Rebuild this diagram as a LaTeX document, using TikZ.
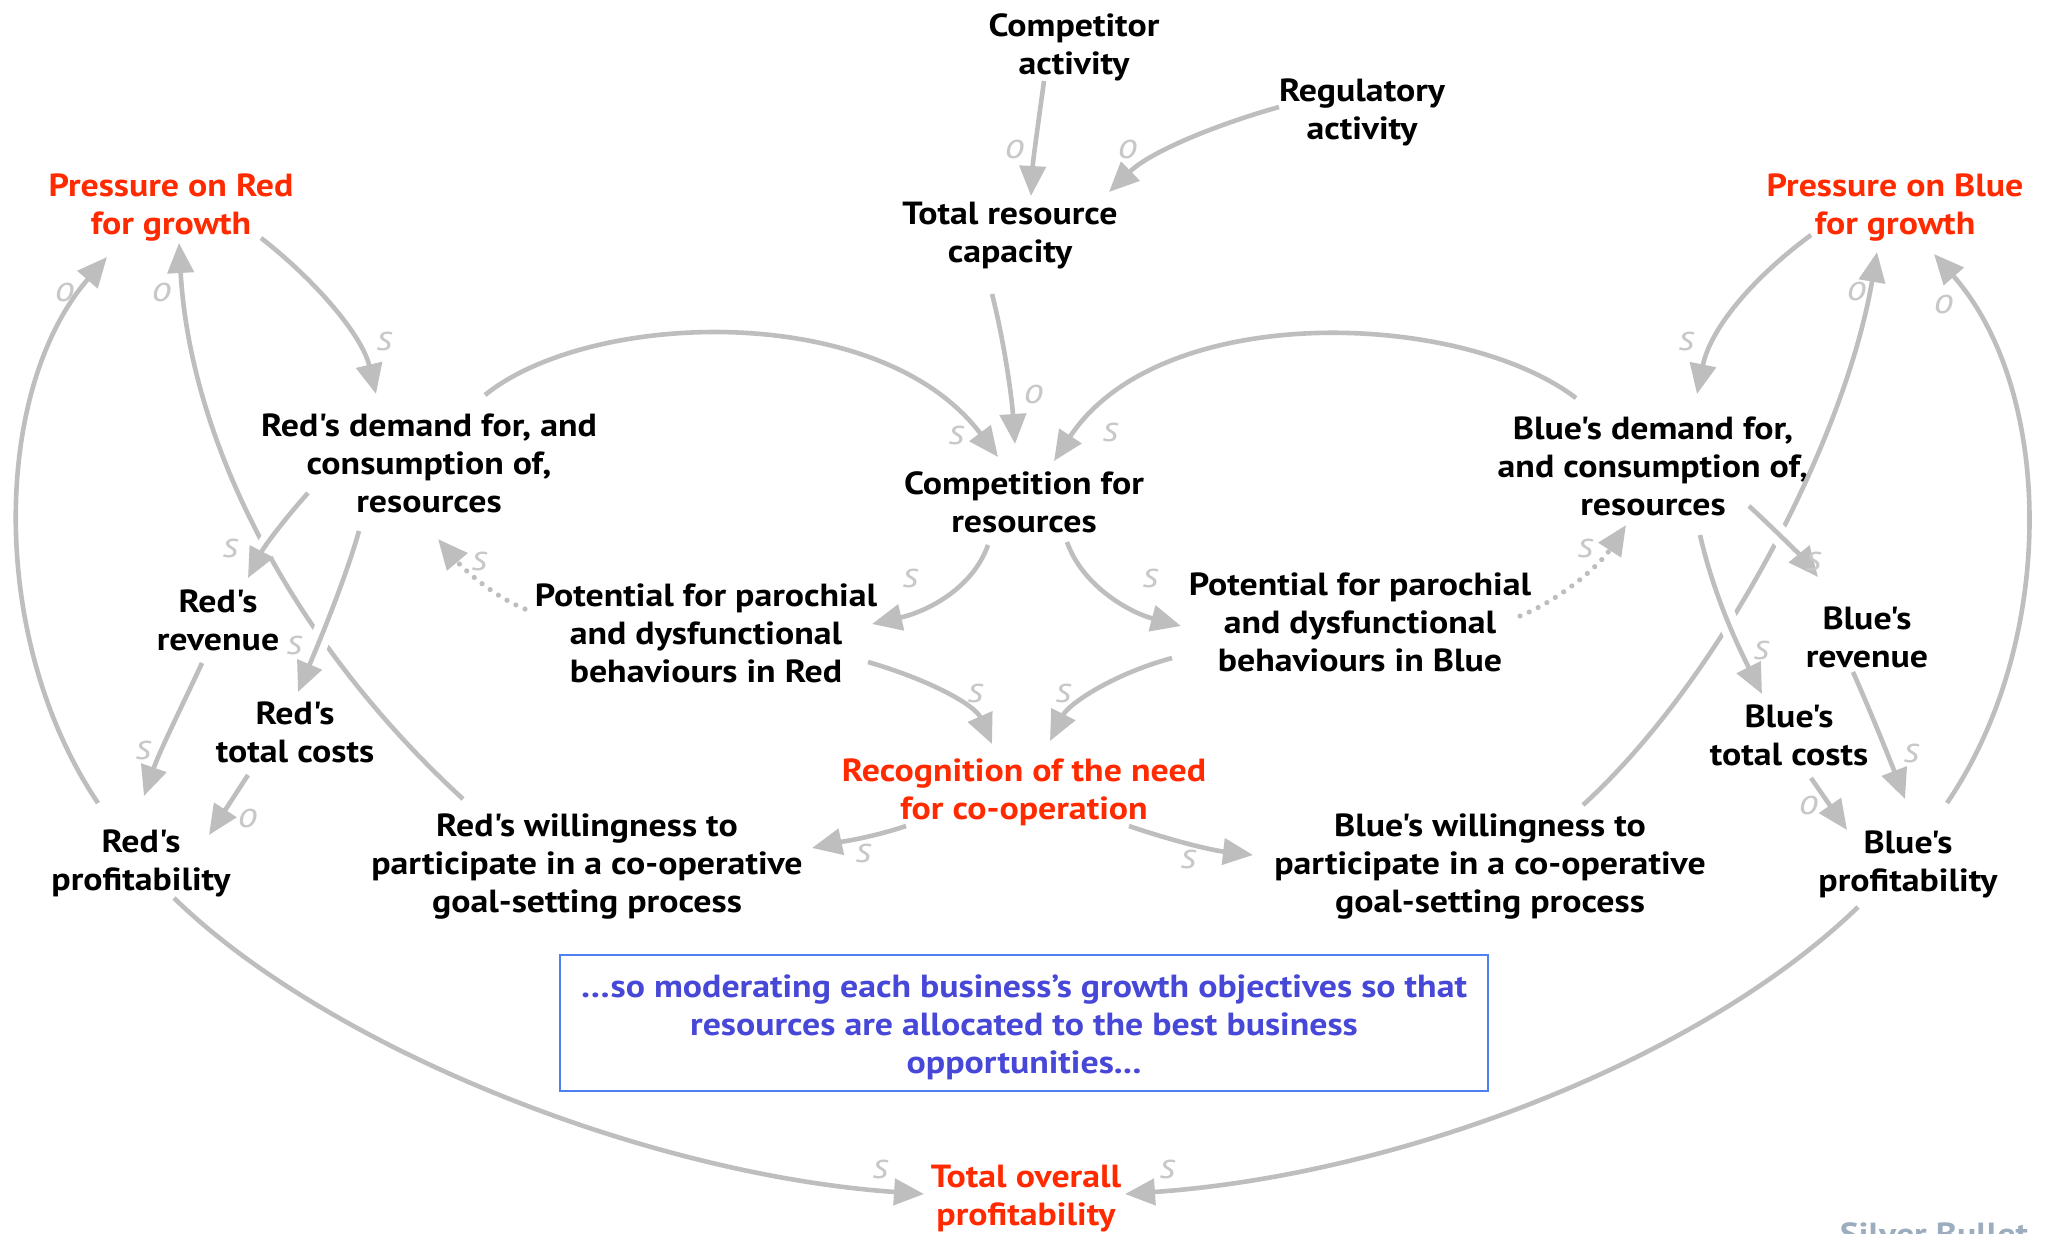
\documentclass[tikz,border=0pt]{standalone}
\usepackage{fontspec}
\newfontfamily\dfont{PT Sans}[FakeStretch=1.12]
\usetikzlibrary{arrows.meta,calc}

\definecolor{linegray}{HTML}{BEBEBE}
\definecolor{labgray}{HTML}{C8C8C8}
\definecolor{accent}{HTML}{FF2A00}
\definecolor{notetext}{HTML}{4747D8}
\definecolor{noteframe}{HTML}{4F80F0}
\definecolor{markgray}{HTML}{9CADC0}

\tikzset{
  var/.style={font=\dfont\bfseries\fontsize{16}{19}\selectfont, align=center, inner sep=0pt},
  hot/.style={var, text=accent},
  pol/.style={font=\dfont\itshape\fontsize{18}{18}\selectfont, text=labgray, inner sep=0pt},
  link/.style={draw=linegray, line width=2.3pt, -{Triangle[length=15pt,width=13pt]}},
  halo/.style={preaction={draw=white, line width=10pt, -}},
  dotlink/.style={link, dash pattern=on 0pt off 5pt, line cap=round, line width=2.6pt}
}

\begin{document}
\begin{tikzpicture}[x=0.5pt, y=-0.5pt]
\useasboundingbox (0,0) rectangle (2046,1233);
\fill[white] (0,0) rectangle (2046,1233);

% variables
\node[var] (comp) at (1074,47) {Competitor\\activity};
\node[var] (reg) at (1362,112) {Regulatory\\activity};
\node[var] (trc) at (1010,236) {Total resource\\capacity};
\node[hot] (pr) at (171,208) {Pressure on Red\\for growth};
\node[hot] (pb) at (1895,208) {Pressure on Blue\\for growth};
\node[var] (rd) at (429,463) {Red's demand for, and\\consumption of,\\resources};
\node[var] (cfr) at (1024,502) {Competition for\\resources};
\node[var] (bd) at (1653,466) {Blue's demand for,\\and consumption of,\\resources};
\node[var] (rrev) at (218,620) {Red's\\revenue};
\node[var] (rcost) at (295,732) {Red's\\total costs};
\node[var] (rprof) at (141,863) {Red's\\profitability};
\node[var] (ppr) at (706,633) {Potential for parochial\\and dysfunctional\\behaviours in Red};
\node[var] (ppb) at (1360,622) {Potential for parochial\\and dysfunctional\\behaviours in Blue};
\node[hot] (rec) at (1024,792) {Recognition of the need\\for co-operation};
\node[var] (rwill) at (587,867) {Red's willingness to\\participate in a co-operative\\goal-setting process};
\node[var] (bwill) at (1490,867) {Blue's willingness to\\participate in a co-operative\\goal-setting process};
\node[var] (brev) at (1867,637) {Blue's\\revenue};
\node[var] (bcost) at (1789,735) {Blue's\\total costs};
\node[var] (bprof) at (1908,864) {Blue's\\profitability};
\node[hot] (total) at (1026,1199) {Total overall\\profitability};

% note box
\node[draw=noteframe, line width=1.1pt, minimum width=464pt, minimum height=68pt, inner sep=0pt] (note) at (1024,1023) {};
\node[var, text=notetext] (notetxt) at (1024,1027) {…so moderating each business’s growth objectives so that\\resources are allocated to the best business\\opportunities...};

% watermark
\node[font=\dfont\bfseries\fontsize{16}{16}\selectfont, text=markgray, anchor=base, inner sep=0pt] (wm) at (1934,1245) {Silver Bullet};

% long links that are crossed by others (drawn first)
\draw[link] ($(rprof)+(-43,-60)$) .. controls (-12,640) and (-8,390) .. ($(pr)+(-64,49)$);
\draw[link] ($(rwill)+(-124,-68)$) .. controls (290,640) and (190,440) .. ($(pr)+(8,35)$);
\draw[link] ($(bprof)+(39,-61)$) .. controls (2058,640) and (2054,390) .. ($(pb)+(39,46)$);
\draw[link] ($(bwill)+(93,-62)$) .. controls (1720,680) and (1845,440) .. ($(pb)+(-18,44)$);

% top cluster
\draw[link] ($(comp)+(-30,34)$) .. controls (1038,125) and (1033,160) .. ($(trc)+(21,-40)$);
\draw[link] ($(reg)+(-83,-5)$) .. controls (1215,125) and (1150,152) .. ($(trc)+(99,-44)$);
\draw[link] ($(trc)+(-18,58)$) .. controls (1005,345) and (1012,400) .. ($(cfr)+(-9,-58)$);
\draw[link] ($(rd)+(56,-68)$) .. controls (590,310) and (880,300) .. ($(cfr)+(-26,-45)$);
\draw[link] ($(bd)+(-77,-68)$) .. controls (1460,310) and (1160,300) .. ($(cfr)+(30,-41)$);

% competition to behaviours, and on to recognition
\draw[link] ($(cfr)+(-36,43)$) .. controls (972,590) and (925,612) .. ($(ppr)+(166,-9)$);
\draw[link] ($(cfr)+(43,40)$) .. controls (1082,585) and (1128,612) .. ($(ppb)+(-179,4)$);
\draw[link] ($(ppr)+(162,29)$) .. controls (930,680) and (975,705) .. ($(rec)+(-32,-48)$);
\draw[link] ($(ppb)+(-188,36)$) .. controls (1110,675) and (1068,705) .. ($(rec)+(26,-51)$);
\draw[link] ($(rec)+(-118,34)$) .. controls (870,838) and (840,842) .. ($(rwill)+(225,-19)$);
\draw[link] ($(rec)+(105,34)$) .. controls (1170,840) and (1210,850) .. ($(bwill)+(-237,-12)$);

% behaviours feeding back into demand
\draw[dotlink] ($(ppr)+(-181,-24)$) .. controls (490,595) and (460,565) .. ($(rd)+(9,76)$);
\draw[dotlink] ($(ppb)+(160,-6)$) .. controls (1560,600) and (1600,565) .. ($(bd)+(-27,59)$);

% Red business
\draw[link] ($(pr)+(90,30)$) .. controls (315,280) and (362,335) .. ($(rd)+(-53,-69)$);
\draw[link, halo] ($(rd)+(-121,30)$) .. controls (288,515) and (265,545) .. ($(rrev)+(30,-42)$);
\draw[link, halo] ($(rd)+(-70,68)$) .. controls (345,580) and (320,640) .. ($(rcost)+(3,-40)$);
\draw[link] ($(rrev)+(-16,43)$) .. controls (185,700) and (160,750) .. ($(rprof)+(3,-67)$);
\draw[link] ($(rcost)+(-47,43)$) -- ($(rprof)+(68,-28)$);

% Blue business
\draw[link] ($(pb)+(-84,27)$) .. controls (1750,280) and (1710,330) .. ($(bd)+(44,-72)$);
\draw[link, halo] ($(bd)+(96,40)$) .. controls (1775,530) and (1800,555) .. ($(brev)+(-49,-60)$);
\draw[link, halo] ($(bd)+(47,69)$) .. controls (1715,600) and (1740,650) .. ($(bcost)+(-27,-41)$);
\draw[link] ($(brev)+(-14,35)$) .. controls (1872,715) and (1890,760) .. ($(bprof)+(-3,-65)$);
\draw[link] ($(bcost)+(22,43)$) -- ($(bprof)+(-61,-34)$);

% profitability into the total
\draw[link] ($(rprof)+(33,35)$) .. controls (330,1050) and (650,1175) .. ($(total)+(-102,-5)$);
\draw[link] ($(bprof)+(-50,43)$) .. controls (1700,1060) and (1400,1175) .. ($(total)+(99,-5)$);

% polarity marks
\node[pol] (p1) at (1015,149) {o};
\node[pol] (p2) at (1128,149) {o};
\node[pol] (p3) at (1034,394) {o};
\node[pol] (p4) at (957,435) {s};
\node[pol] (p5) at (1111,432) {s};
\node[pol] (p6) at (911,578) {s};
\node[pol] (p7) at (1151,578) {s};
\node[pol] (p8) at (976,693) {s};
\node[pol] (p9) at (1064,693) {s};
\node[pol] (p10) at (864,853) {s};
\node[pol] (p11) at (1189,859) {s};
\node[pol] (p12) at (480,561) {s};
\node[pol] (p13) at (1586,548) {s};
\node[pol] (p14) at (385,341) {s};
\node[pol] (p15) at (231,548) {s};
\node[pol] (p16) at (295,645) {s};
\node[pol] (p17) at (144,750) {s};
\node[pol] (p18) at (248,818) {o};
\node[pol] (p19) at (65,292) {o};
\node[pol] (p20) at (162,292) {o};
\node[pol] (p22) at (1687,341) {s};
\node[pol] (p23) at (1814,561) {s};
\node[pol] (p24) at (1762,650) {s};
\node[pol] (p25) at (1912,753) {s};
\node[pol] (p26) at (1809,805) {o};
\node[pol] (p27) at (1944,304) {o};
\node[pol] (p28) at (1857,291) {o};
\node[pol] (p29) at (881,1169) {s};
\node[pol] (p30) at (1168,1169) {s};
\end{tikzpicture}
\end{document}
